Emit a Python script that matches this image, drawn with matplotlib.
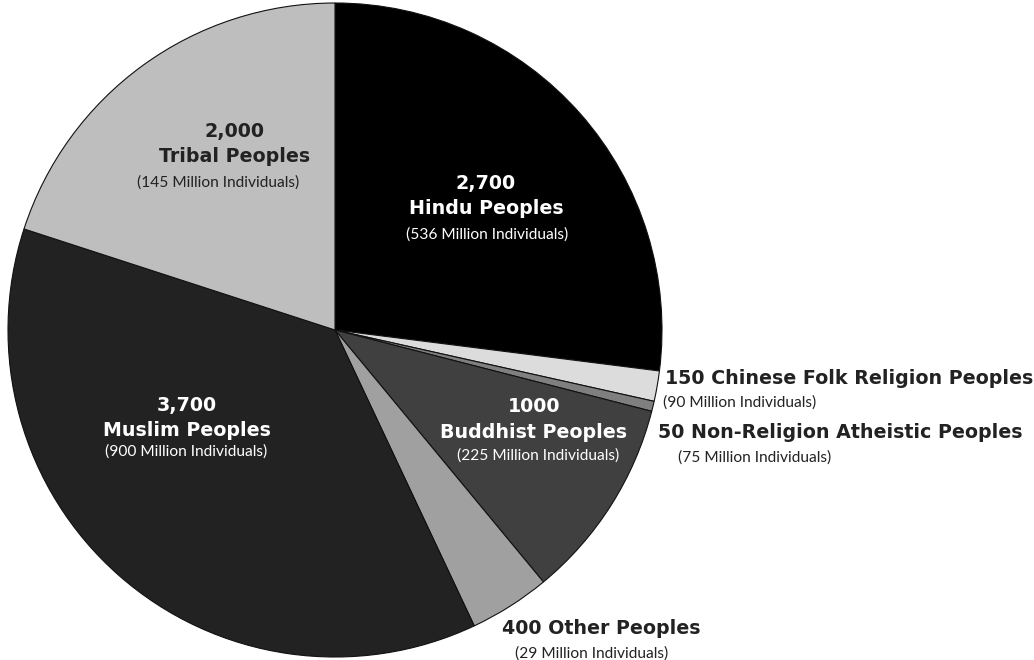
import matplotlib.pyplot as plt

groups = ["Hindu", "Chinese Folk Religion", "Non-Religion Atheistic",
          "Buddhist", "Other", "Muslim", "Tribal"]
peoples = [2700, 150, 50, 1000, 400, 3700, 2000]
count_labels = ["2,700", "150", "50", "1000", "400", "3,700", "2,000"]
individuals = [536, 90, 75, 225, 29, 900, 145]
colors = ["#000000", "#dcdcdc", "#7f7f7f", "#404040", "#a0a0a0", "#222222", "#bebebe"]

W, H = 1034, 660
fig = plt.figure(figsize=(W / 100, H / 100), dpi=100)
cx, cy, r = 335, 330, 327
ax = fig.add_axes([(cx - r) / W, (H - cy - r) / H, 2 * r / W, 2 * r / H])
ax.pie(peoples, colors=colors, startangle=90, counterclock=False,
       wedgeprops=dict(edgecolor="#111111", linewidth=0.8))
ax.set_xlim(-1, 1)
ax.set_ylim(-1, 1)
ax.set_aspect("equal")
ax.axis("off")

BOLD = dict(family="DejaVu Sans", weight="bold", fontsize=13.7)
THIN = dict(family="Lato", fontsize=11.2)


def put(px, py, s, style, color, ha="center"):
    fig.text(px / W, 1 - py / H, s, ha=ha, va="center", color=color, **style)


# inside labels: (index, x, y of first line, subtitle x, subtitle y, text color)
inside = [(6, 235, 131, 218, 183, "#222222"), (0, 486, 183, 487, 235, "white"),
          (5, 187, 405, 186, 452, "white"), (3, 534, 407, 538, 456, "white")]
for i, x, y, sx, sy, c in inside:
    put(x, y, count_labels[i], BOLD, c)
    put(x, y + 25, f"{groups[i]} Peoples", BOLD, c)
    put(sx, sy, f"({individuals[i]} Million Individuals)", THIN, c)

# outside labels
outside = [(1, 665, 378, 663), (2, 658, 433, 678), (4, 502, 629, 515)]
for i, x, y, sx in outside:
    put(x, y, f"{count_labels[i]} {groups[i]} Peoples", BOLD, "#222222", ha="left")
    put(sx, y + 25, f"({individuals[i]} Million Individuals)", THIN, "#222222", ha="left")

fig.savefig("out.png", dpi=100, facecolor="white")
